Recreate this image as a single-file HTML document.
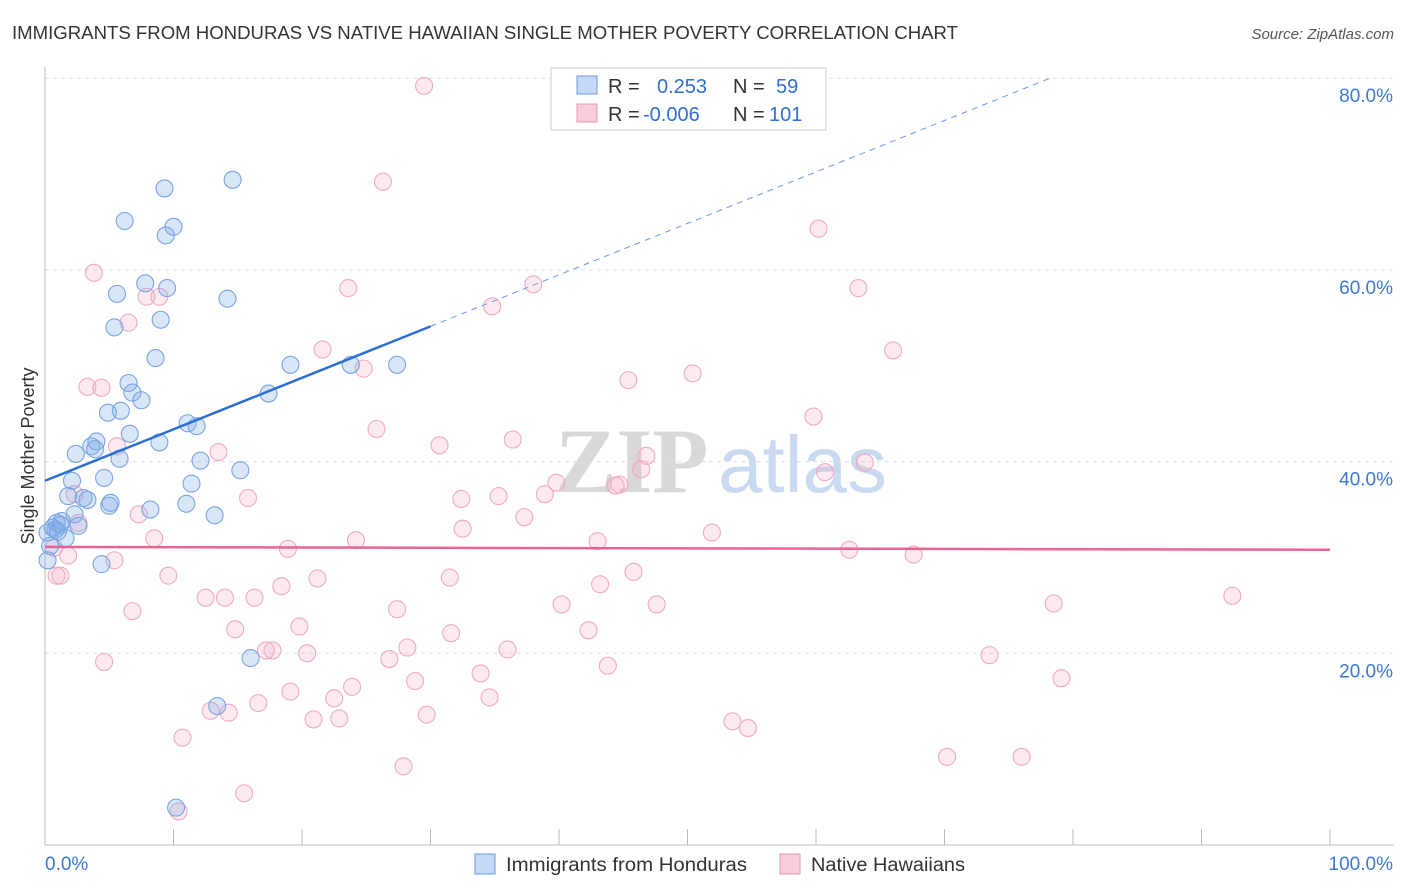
<!DOCTYPE html>
<html><head><meta charset="utf-8"><style>
body{margin:0;background:#fff;font-family:"Liberation Sans",sans-serif;}
svg{display:block}
</style></head><body>
<svg id="chart" width="1406" height="892">
<text x="12" y="39" font-size="18" fill="#333" textLength="946" lengthAdjust="spacingAndGlyphs">IMMIGRANTS FROM HONDURAS VS NATIVE HAWAIIAN SINGLE MOTHER POVERTY CORRELATION CHART</text>
<text x="1394" y="39" font-size="15" fill="#555" font-style="italic" text-anchor="end">Source: ZipAtlas.com</text>
<g>
<text x="555" y="492" font-size="92" font-family="Liberation Serif,serif" fill="#d8d8d8" font-weight="bold">ZIP</text>
<text x="718" y="492" font-size="80" fill="#c9d9f0">atlas</text>
</g>
<g id="grid"></g>
<g id="axes"></g>
<g id="marks"></g>
<text transform="translate(34,456) rotate(-90)" font-size="18" fill="#333" text-anchor="middle">Single Mother Poverty</text>
<g>
<rect x="551" y="68" width="275" height="62" fill="#fff" stroke="#ccc"/>
<rect x="577" y="76" width="20" height="18" fill="#c5d9f5" stroke="#6d9be0"/>
<rect x="577" y="104" width="20" height="18" fill="#f9cdd9" stroke="#e897b3"/>
<text x="608" y="93" font-size="20" fill="#333">R = <tspan x="657" fill="#2f6fd6">0.253</tspan><tspan x="733" fill="#333">N = </tspan><tspan x="776" fill="#2f6fd6">59</tspan></text>
<text x="608" y="121" font-size="20" fill="#333">R = <tspan x="643" fill="#2f6fd6">-0.006</tspan><tspan x="733" fill="#333">N = </tspan><tspan x="769" fill="#2f6fd6">101</tspan></text>
</g>
<g>
<rect x="475" y="854" width="20" height="20" fill="#c5d9f5" stroke="#6d9be0"/>
<text x="506" y="871" font-size="19" fill="#333" textLength="241" lengthAdjust="spacingAndGlyphs">Immigrants from Honduras</text>
<rect x="780" y="854" width="20" height="20" fill="#f9cdd9" stroke="#e897b3"/>
<text x="811" y="871" font-size="19" fill="#333" textLength="154" lengthAdjust="spacingAndGlyphs">Native Hawaiians</text>
</g>
</svg>
<script>
const yTicks=[20,40,60,80];
const yTickLabels=["20.0%","40.0%","60.0%","80.0%"];
const xTicks=[0,10,20,30,40,50,60,70,80,90,100];
const blueX=[9.3,14.6,6.2,10.0,9.4,7.8,5.6,9.5,14.2,9.0,5.4,8.6,19.1,23.8,27.4,6.5,6.8,7.5,5.9,4.9,17.4,11.1,11.8,4.0,3.6,3.9,6.6,8.9,2.4,5.8,12.1,15.2,4.6,2.1,11.4,1.8,3.0,3.3,5.1,5.0,8.2,11.0,13.2,2.3,1.3,0.9,0.6,1.2,2.6,1.6,0.4,4.4,16.0,13.4,10.2,0.2,0.8,1.0,0.2];
const blueY=[68.5,69.4,65.1,64.5,63.6,58.6,57.5,58.1,57.0,54.8,54.0,50.8,50.1,50.1,50.1,48.2,47.2,46.4,45.3,45.1,47.1,44.0,43.7,42.1,41.6,41.3,42.9,42.0,40.8,40.3,40.1,39.1,38.3,38.0,37.7,36.4,36.2,36.0,35.7,35.4,35.0,35.6,34.4,34.5,33.8,33.6,33.1,33.4,33.3,32.0,31.2,29.3,19.5,14.5,3.9,29.7,32.9,32.7,32.6];
const pinkX=[29.5,26.3,60.2,3.8,38.0,63.3,23.6,7.9,8.9,34.8,6.5,66.0,21.6,24.8,45.4,50.4,3.3,4.4,59.8,25.8,30.7,36.4,5.6,13.5,46.8,60.7,63.8,46.4,44.4,44.7,39.8,38.9,35.3,32.4,15.8,2.3,7.3,37.3,32.5,2.6,51.9,8.5,24.2,43.0,18.9,62.6,67.6,1.8,5.4,0.7,45.8,9.6,21.2,31.5,0.9,1.2,18.4,43.2,12.5,14.0,16.3,40.2,47.6,78.5,92.4,6.8,27.4,14.8,19.8,31.6,42.3,17.2,17.7,20.4,28.2,36.0,26.8,4.6,73.5,43.8,33.9,28.8,79.1,23.9,19.1,22.5,34.6,16.6,12.9,14.3,29.7,20.9,22.9,53.5,54.7,10.7,70.2,76.0,27.9,15.5,10.4];
const pinkY=[79.2,69.2,64.3,59.7,58.5,58.1,58.1,57.2,57.2,56.2,54.5,51.6,51.7,49.7,48.5,49.2,47.8,47.7,44.7,43.4,41.7,42.3,41.6,41.0,40.6,38.9,39.9,39.2,37.5,37.6,37.8,36.6,36.4,36.1,36.2,36.6,34.5,34.2,33.0,33.6,32.6,32.0,31.8,31.7,30.9,30.8,30.3,30.2,29.7,31.0,28.5,28.1,27.8,27.9,28.1,28.1,27.0,27.2,25.8,25.8,25.8,25.1,25.1,25.2,26.0,24.4,24.6,22.5,22.8,22.1,22.4,20.3,20.3,20.0,20.6,20.4,19.4,19.1,19.8,18.7,17.9,17.1,17.4,16.5,16.0,15.3,15.4,14.8,14.0,13.8,13.6,13.1,13.2,12.9,12.2,11.2,9.2,9.2,8.2,5.4,3.5];
const blueTrend=[38.0,0.537];
const pinkTrend=[31.1,-0.003];

const X=v=>45+v*12.85;
const Y=v=>845-v*9.585;
const NS="http://www.w3.org/2000/svg";
function mk(tag,attrs,parent){const e=document.createElementNS(NS,tag);for(const k in attrs)e.setAttribute(k,attrs[k]);parent.appendChild(e);return e;}
const grid=document.getElementById('grid'),axes=document.getElementById('axes'),marks=document.getElementById('marks');
yTicks.forEach((t,i)=>{
  const l=mk('line',{x1:45,x2:1394,y1:Y(t),y2:Y(t),stroke:'#ddd','stroke-dasharray':'4,4'},grid);
  
  
  const tx=mk('text',{x:1393,y:Y(t)+24,'font-size':19,fill:'#3b78d8','text-anchor':'end'},axes);
  tx.textContent=yTickLabels[i];
  
  
});
const xa=mk('line',{x1:45,x2:1394,y1:845,y2:845,stroke:'#bbb'},axes);


const ya=mk('line',{x1:45,x2:45,y1:67,y2:845,stroke:'#bbb'},axes);


xTicks.forEach(t=>{
  const l=mk('line',{x1:X(t),x2:X(t),y1:829,y2:845,stroke:'#bbb'},axes);
  
  
});
const x0=mk('text',{x:45,y:870,'font-size':19,fill:'#3b78d8'},axes);x0.textContent='0.0%';


const x1=mk('text',{x:1393,y:870,'font-size':19,fill:'#3b78d8','text-anchor':'end'},axes);x1.textContent='100.0%';



pinkX.forEach((v,i)=>{
  const c=mk('circle',{cx:X(v),cy:Y(pinkY[i]),r:8.5,fill:'rgba(244,170,196,0.25)',stroke:'#efabc2','stroke-width':1.1},marks);
  
  
});
blueX.forEach((v,i)=>{
  const c=mk('circle',{cx:X(v),cy:Y(blueY[i]),r:8.5,fill:'rgba(130,172,232,0.3)',stroke:'#79a5e3','stroke-width':1.1},marks);
  
  
});
const bEnd=(80-blueTrend[0])/blueTrend[1];
const bd=mk('line',{x1:X(30),y1:Y(blueTrend[0]+blueTrend[1]*30),x2:X(bEnd),y2:Y(80),stroke:'#6a9be0','stroke-width':1,'stroke-dasharray':'6,5'},marks);


const bs=mk('line',{x1:X(0),y1:Y(blueTrend[0]),x2:X(30),y2:Y(blueTrend[0]+blueTrend[1]*30),stroke:'#2a6fd6','stroke-width':2.5},marks);


const ps=mk('line',{x1:X(0),y1:Y(pinkTrend[0]),x2:X(100),y2:Y(pinkTrend[0]+pinkTrend[1]*100),stroke:'#e86592','stroke-width':2.5},marks);


</script>
</body></html>
